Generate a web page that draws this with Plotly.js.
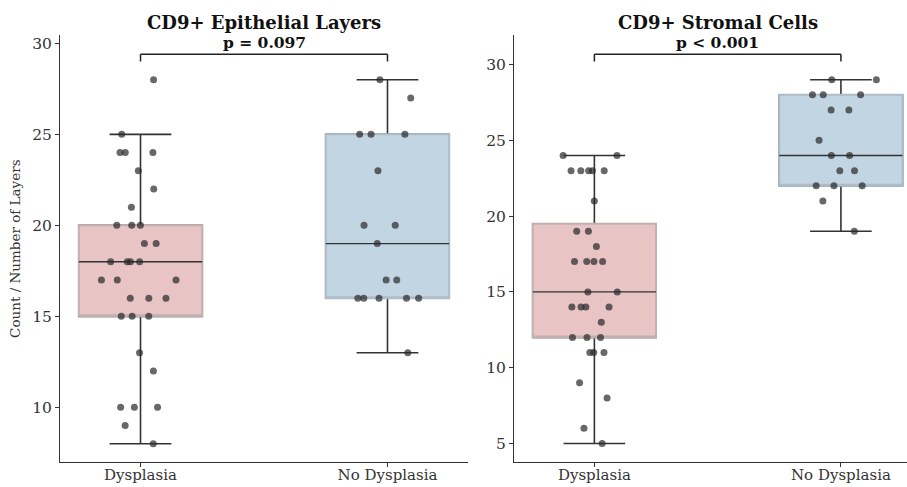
<!DOCTYPE html>
<html>
<head>
<meta charset="utf-8">
<script src="https://cdn.plot.ly/plotly-3.0.1.min.js"></script>
<style>html,body{margin:0;padding:0;background:#fff;}#chart{width:907px;height:487px;}</style>
</head>
<body>
<div id="chart"></div>
<script>
// ---- data ----
const categories = ['Dysplasia', 'No Dysplasia'];
const panelTitles = ['CD9+ Epithelial Layers', 'CD9+ Stromal Cells'];
const pLabels = ['p = 0.097', 'p < 0.001'];
const yTitle = 'Count / Number of Layers';

const epiDysplasia = [28,25,24,24,24,23,22,21,20,20,20,19,19,18,18,18,18,17,17,17,16,16,16,15,15,15,13,12,10,10,10,9,8];
const epiNoDysplasia = [28,27,25,25,25,23,20,20,19,17,17,16,16,16,16,16,13];
const stroDysplasia = [24,24,23,23,23,23,23,21,19,19,18,17,17,17,17,15,15,14,14,14,14,13,12,12,12,11,11,11,9,8,6,5];
const stroNoDysplasia = [29,29,28,28,28,27,27,25,24,24,23,23,22,22,22,21,19];

// ---- styling ----
const fills = ['#e8c4c5', '#c2d5e3'];
const edges = ['#c2b0b1', '#aebcc7'];
const dark = '#333333';
const FONT = 'DejaVu Serif';

function quantile(s, p) {
  const pos = (s.length - 1) * p, lo = Math.floor(pos), hi = Math.ceil(pos);
  return s[lo] + (s[hi] - s[lo]) * (pos - lo);
}
function stats(vals) {
  const s = vals.slice().sort((a, b) => a - b);
  const q1 = quantile(s, 0.25), med = quantile(s, 0.5), q3 = quantile(s, 0.75);
  const iqr = q3 - q1;
  const lo = Math.min(...s.filter(v => v >= q1 - 1.5 * iqr));
  const hi = Math.max(...s.filter(v => v <= q3 + 1.5 * iqr));
  return {q1, med, q3, lo, hi};
}

const panels = [
  {groups: [epiDysplasia, epiNoDysplasia], xa: 'x', ya: 'y'},
  {groups: [stroDysplasia, stroNoDysplasia], xa: 'x2', ya: 'y2'}
];

const traces = [];
const BW = 0.5;
panels.forEach(p => {
  p.groups.forEach((vals, i) => {
    const st = stats(vals);
    const cat = [categories[i]];
    const common = {type: 'box', orientation: 'v', x: cat, xaxis: p.xa, yaxis: p.ya,
      width: BW, boxpoints: false, showlegend: false, hoverinfo: 'skip'};
    // whiskers (dark)
    traces.push(Object.assign({}, common, {
      q1: [st.q1], median: [st.med], q3: [st.q3], lowerfence: [st.lo], upperfence: [st.hi],
      fillcolor: 'rgba(0,0,0,0)', line: {color: dark, width: 1.6}, whiskerwidth: 0.5
    }));
    // box body
    traces.push(Object.assign({}, common, {
      q1: [st.q1], median: [st.q1], q3: [st.q3], lowerfence: [st.q1], upperfence: [st.q3],
      fillcolor: fills[i], line: {color: edges[i], width: 2}, whiskerwidth: 0
    }));
    // median line
    traces.push(Object.assign({}, common, {
      q1: [st.med], median: [st.med], q3: [st.med], lowerfence: [st.med], upperfence: [st.med],
      fillcolor: 'rgba(0,0,0,0)', line: {color: dark, width: 1.3}, whiskerwidth: 0
    }));
  });
});
// jittered points
panels.forEach(p => {
  p.groups.forEach((vals, i) => {
    traces.push({type: 'box', orientation: 'v', y: vals, x: vals.map(() => categories[i]),
      xaxis: p.xa, yaxis: p.ya, width: BW, boxpoints: 'all', jitter: 0.65, pointpos: 0,
      fillcolor: 'rgba(0,0,0,0)', line: {color: 'rgba(0,0,0,0)', width: 0},
      marker: {color: 'rgba(40,40,40,0.7)', size: 7, line: {width: 0}},
      showlegend: false, hoverinfo: 'y'});
  });
});

const W = 907, H = 487;
const yDom = [1 - 462.3 / H, 1 - 35 / H];
function xAxis(dom, range) {
  return {domain: dom, range: range, type: 'category', categoryorder: 'array', categoryarray: categories,
    showline: true, linecolor: dark, linewidth: 1, ticks: 'outside', ticklen: 4, tickcolor: dark,
    ticklabelstandoff: -5,
    showgrid: false, zeroline: false, tickfont: {family: FONT, size: 15, color: '#333'}, fixedrange: true};
}
function yAxis(range, anchor) {
  return {domain: yDom, range: range, anchor: anchor, dtick: 5, tick0: 0,
    showline: true, linecolor: dark, linewidth: 1, ticks: 'outside', ticklen: 4, tickcolor: dark,
    showgrid: false, zeroline: false, tickfont: {family: FONT, size: 15.5, color: '#333'}, fixedrange: true};
}
const xDom1 = [60 / W, 468 / W], xDom2 = [514 / W, 1];

const layout = {
  width: W, height: H, autosize: false,
  margin: {l: 0, r: 0, t: 0, b: 0},
  paper_bgcolor: '#fff', plot_bgcolor: '#fff',
  boxmode: 'overlay',
  xaxis: Object.assign(xAxis(xDom1, [-0.326, 1.326]), {anchor: 'y'}),
  yaxis: Object.assign(yAxis([6.98, 30.46], 'x'), {
    title: {text: yTitle, font: {family: FONT, size: 13.5, color: '#333'}, standoff: 8}}),
  xaxis2: Object.assign(xAxis(xDom2, [-0.326, 1.268]), {anchor: 'y2'}),
  yaxis2: yAxis([3.76, 31.95], 'x2'),
  shapes: [], annotations: []
};

panels.forEach((p, k) => {
  const all = p.groups.flat();
  const mx = Math.max(...all), mn = Math.min(...all), rg = mx - mn;
  const barY = mx + 0.07 * rg, tipY = mx + 0.05 * rg;
  const ln = {color: '#222', width: 1.5};
  layout.shapes.push({type: 'line', xref: p.xa, yref: p.ya, x0: 0, x1: 1, y0: barY, y1: barY, line: ln});
  layout.shapes.push({type: 'line', xref: p.xa, yref: p.ya, x0: 0, x1: 0, y0: tipY, y1: barY, line: ln});
  layout.shapes.push({type: 'line', xref: p.xa, yref: p.ya, x0: 1, x1: 1, y0: tipY, y1: barY, line: ln});
  layout.annotations.push({xref: p.xa, yref: p.ya, x: 0.5, xanchor: 'center', y: barY, yanchor: 'bottom', yshift: 0,
    text: '<b>' + pLabels[k] + '</b>', showarrow: false, font: {family: FONT, size: 15.5, color: '#111'}});
  const cx = k === 0 ? (xDom1[0] + xDom1[1]) / 2 : (514 + 921) / 2 / W;
  layout.annotations.push({xref: 'paper', yref: 'paper', x: cx, xanchor: 'center', y: 1 - 22 / H, yanchor: 'middle',
    text: '<b>' + panelTitles[k] + '</b>', showarrow: false, font: {family: FONT, size: 18, color: '#111'}});
});

Plotly.newPlot('chart', traces, layout, {displayModeBar: false, staticPlot: true});
</script>
</body>
</html>
